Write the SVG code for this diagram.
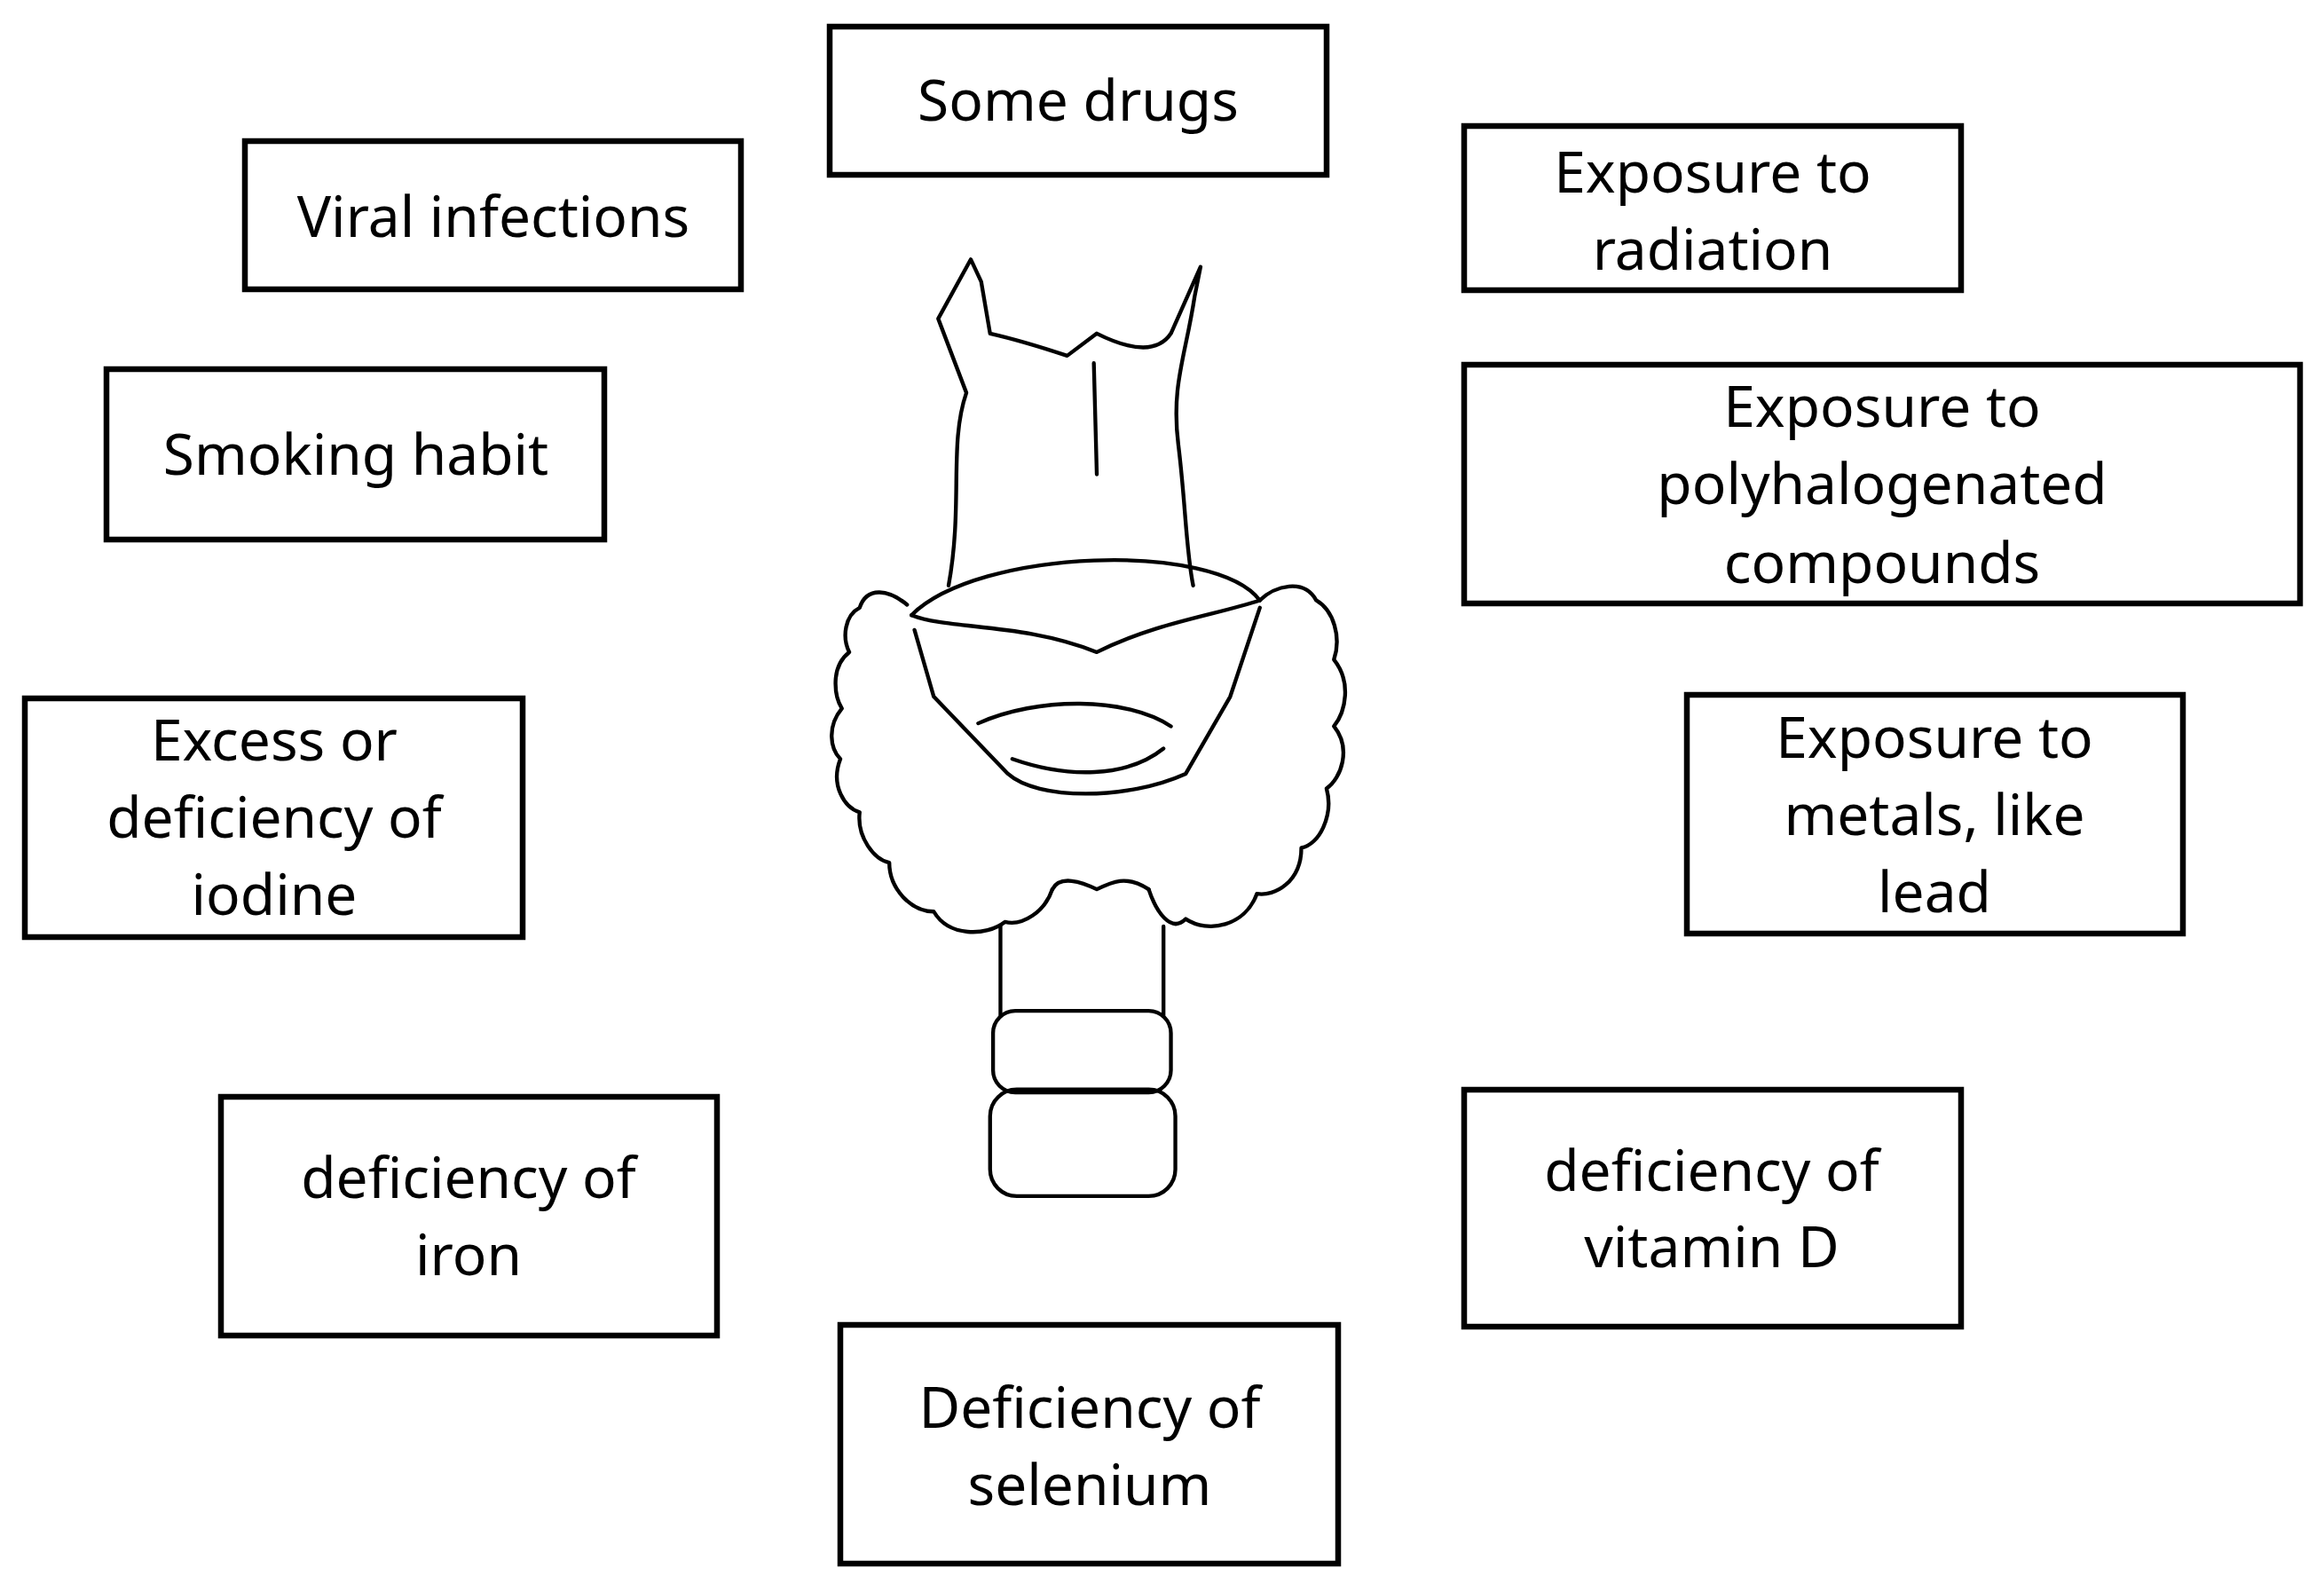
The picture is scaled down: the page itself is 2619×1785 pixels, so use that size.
<svg xmlns="http://www.w3.org/2000/svg" width="2619" height="1785" viewBox="0 0 2619 1785">
<style>
.b{fill:#fff;stroke:#000;stroke-width:6.5}
.t{font-family:"Noto Sans","Liberation Sans",sans-serif;font-size:64px;text-anchor:middle;fill:#000}
.d{fill:none;stroke:#000;stroke-width:2.6;stroke-linecap:round;stroke-linejoin:round}
</style>
<rect width="2619" height="1785" fill="#fff"/>
<g id="thyroid" transform="scale(1.6703)">
<path class="d" d="M640,395 C650,340 640,300 652,265 L633,215 L655,175 L662,190 L668,225 C690,230 705,235 720,240 L740,225 C760,235 780,240 790,225 L810,180 L806,200 C800,240 790,260 795,300 C800,340 800,370 805,395"/>
<path class="d" d="M738,245 L740,320"/>
<path class="d" d="M615,415 C660,370 820,365 850,405"/>
<path class="d" d="M615,415 C640,425 690,420 740,440 C780,420 820,415 850,405"/>
<path class="d" d="M617,425 L630,470 L680,522 C700,540 760,540 800,522 L830,470 L850,410"/>
<path class="d" d="M660,488 C700,470 760,470 790,490 M683,512 C720,525 760,525 785,505"/>
<path class="d" d="M612,408 C600,398 585,395 580,410 C570,415 568,430 573,440 C560,450 563,470 568,478 C558,490 560,505 567,512 C560,530 570,545 580,548 C578,565 590,580 600,582 C600,600 615,615 630,615 C640,632 665,632 678,622 C690,625 705,615 710,600"/>
<path class="d" d="M850,405 C860,395 880,390 888,405 C900,412 905,430 900,445 C912,460 908,480 900,490 C912,505 905,525 895,532 C900,550 890,570 878,572 C878,595 860,605 848,603 C840,625 815,630 800,620 C790,630 780,615 775,600"/>
<path class="d" d="M710,600 C715,590 730,595 740,600 C750,595 760,590 775,600"/>
<path class="d" d="M675,625 L675,685 M785,625 L785,685"/>
<rect class="d" x="670" y="682" width="120" height="55" rx="15"/>
<rect class="d" x="668" y="735" width="125" height="72" rx="18"/>
</g>
<g id="drugs"><rect class="b" x="935" y="30" width="560" height="167"/><text class="t" x="1215" y="136">Some drugs</text></g>
<g id="viral"><rect class="b" x="276" y="159" width="559" height="167"/><text class="t" x="556" y="267">Viral infections</text></g>
<g id="radiation"><rect class="b" x="1650" y="142" width="560" height="185"/><text class="t" x="1930" y="217">Exposure to</text><text class="t" x="1930" y="304">radiation</text></g>
<g id="smoking"><rect class="b" x="120" y="416" width="561" height="192"/><text class="t" x="401" y="535">Smoking habit</text></g>
<g id="poly"><rect class="b" x="1650" y="411" width="942" height="269"/><text class="t" x="2121" y="481">Exposure to</text><text class="t" x="2121" y="568">polyhalogenated</text><text class="t" x="2121" y="657">compounds</text></g>
<g id="iodine"><rect class="b" x="28" y="787" width="561" height="269"/><text class="t" x="309" y="857">Excess or</text><text class="t" x="309" y="944">deficiency of</text><text class="t" x="309" y="1031">iodine</text></g>
<g id="metals"><rect class="b" x="1901" y="783" width="559" height="269"/><text class="t" x="2180" y="854">Exposure to</text><text class="t" x="2180" y="941">metals, like</text><text class="t" x="2180" y="1028">lead</text></g>
<g id="iron"><rect class="b" x="249" y="1236" width="559" height="269"/><text class="t" x="528" y="1350">deficiency of</text><text class="t" x="528" y="1437">iron</text></g>
<g id="vitd"><rect class="b" x="1650" y="1228" width="560" height="267"/><text class="t" x="1929" y="1342">deficiency of</text><text class="t" x="1929" y="1428">vitamin D</text></g>
<g id="selenium"><rect class="b" x="947" y="1493" width="561" height="269"/><text class="t" x="1228" y="1609">Deficiency of</text><text class="t" x="1228" y="1696">selenium</text></g>
<g id="connectors"/>
</svg>
